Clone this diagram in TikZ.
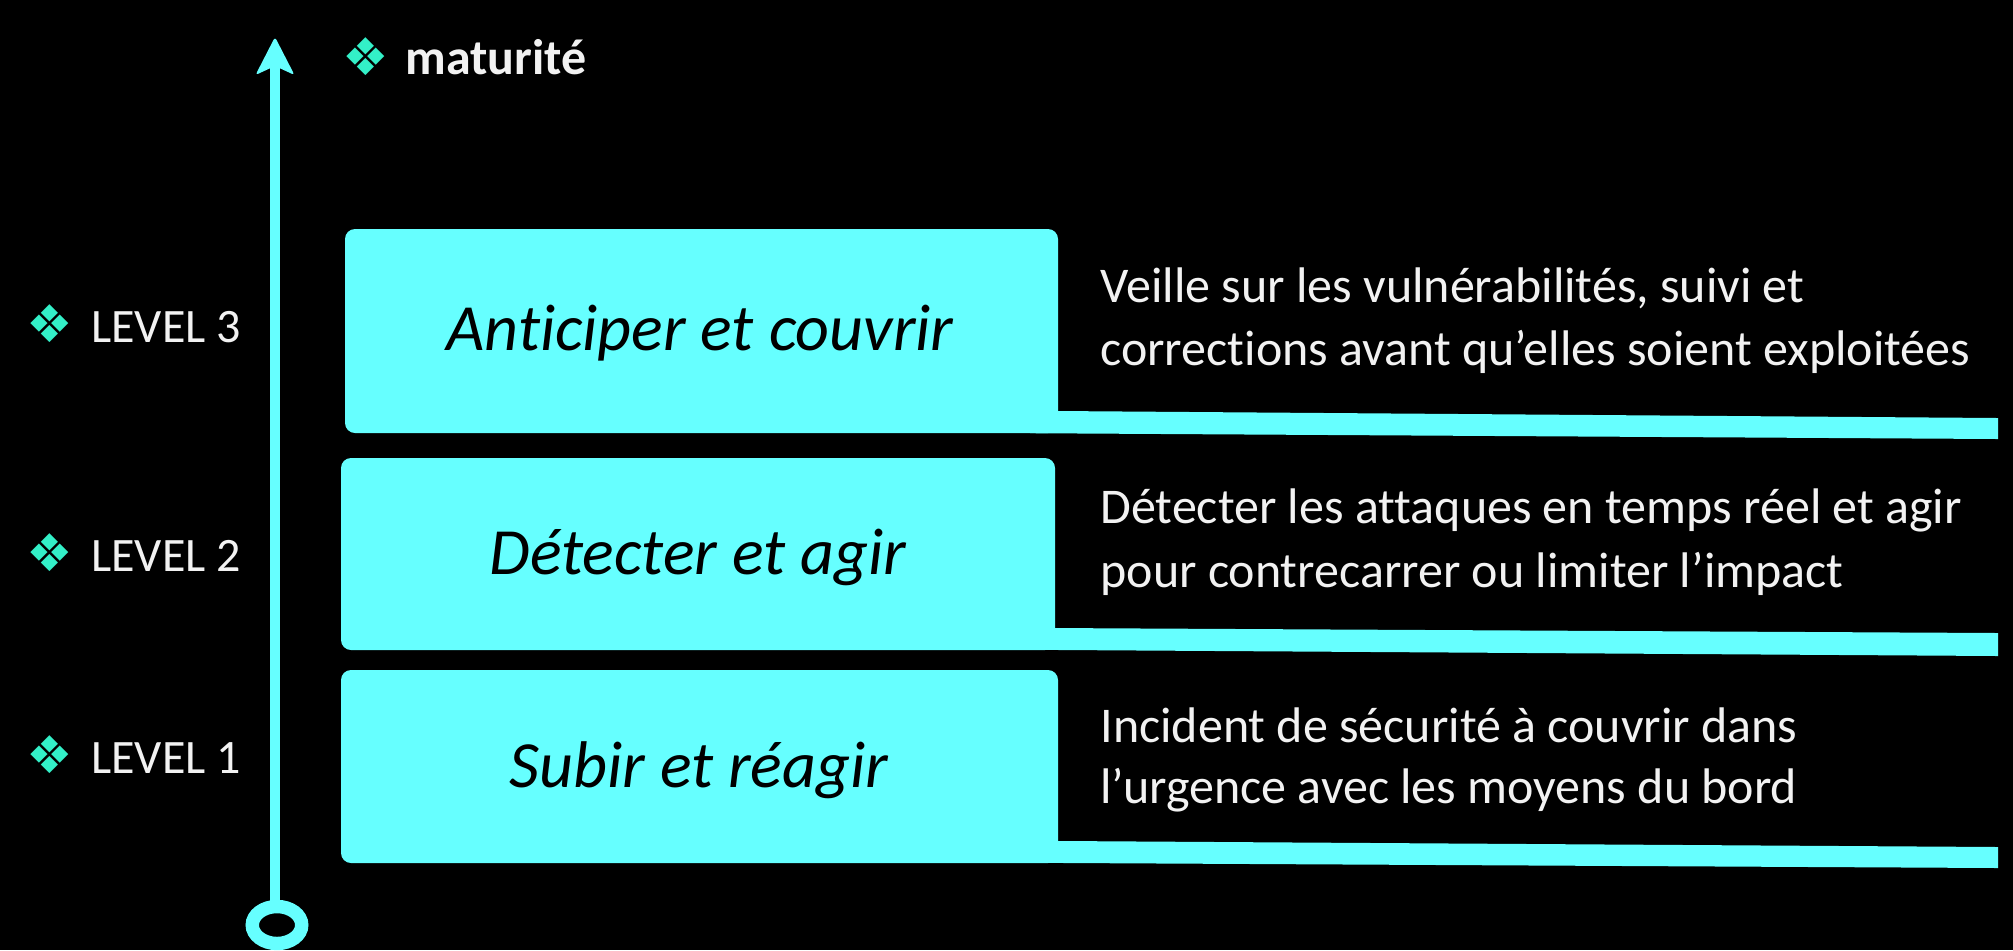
\documentclass[tikz,border=0pt]{standalone}
\usepackage{fontspec}
\usetikzlibrary{shapes.geometric}
\setmainfont{Carlito}[Ligatures=CommonOff]
\newfontfamily\symfont{DejaVu Sans}
\definecolor{cyanbox}{RGB}{102,255,255}
\definecolor{bulletcol}{RGB}{51,240,200}
\definecolor{txt}{RGB}{242,242,242}
\tikzset{
  lvlbox/.style={fill=cyanbox, rounded corners=5pt, inner sep=0pt, draw=none},
  tailbar/.style={fill=cyanbox, draw=none},
  boxlabel/.style={anchor=base, inner sep=0pt, text=black, font=\fontsize{33pt}{38pt}\selectfont\itshape},
  desc/.style={anchor=base west, inner sep=0pt, text=txt, font=\fontsize{25pt}{30pt}\selectfont},
  lvllabel/.style={anchor=base west, inner sep=0pt, text=txt, font=\fontsize{24pt}{29pt}\selectfont},
  bulletsym/.style={inner sep=0pt, text=bulletcol, font=\symfont\fontsize{26pt}{28pt}\selectfont},
}
\begin{document}
\begin{tikzpicture}[x=0.5pt,y=-0.5pt]
\fill[black] (0,0) rectangle (2013,950);
\useasboundingbox (0,0) rectangle (2013,950);

% axis
\coordinate (axisbottom) at (275,906);
\coordinate (axistop) at (275,64);
\draw[cyanbox, line width=5pt] (axisbottom) -- (axistop);
\fill[cyanbox, rounded corners=1.5pt] (275,37) -- (294.5,75) -- (275,66) -- (255.5,75) -- cycle;
\node[draw=cyanbox, line width=6.7pt, ellipse, minimum width=24.75pt, minimum height=18.5pt, inner sep=0pt] (ring) at (277,925) {};

% maturite
\node[bulletsym] (bm) at (366,56.5) {❖};
\node[anchor=base west, inner sep=0pt, text=txt, font=\fontsize{25pt}{30pt}\selectfont\bfseries] (mat) at (405,74) {maturité};

% level labels
\node[bulletsym] (b3s) at (50,324) {❖};
\node[lvllabel] (l3) at (91,342) {LEVEL 3};
\node[bulletsym] (b2s) at (50,553) {❖};
\node[lvllabel] (l2) at (91,571) {LEVEL 2};
\node[bulletsym] (b1s) at (50,755) {❖};
\node[lvllabel] (l1) at (91,773) {LEVEL 1};

% level boxes
\node[lvlbox, minimum width=356.5pt, minimum height=102pt] (box3) at (701.5,331) {};
\fill[tailbar] (1030,410.8) -- (1998,418) -- (1998,439) -- (1030,433.2) -- cycle;
\node[lvlbox, minimum width=357pt, minimum height=96pt] (box2) at (698,554) {};
\fill[tailbar] (1030,627.9) -- (1998,633) -- (1998,656) -- (1030,649.8) -- cycle;
\node[lvlbox, minimum width=358.5pt, minimum height=96.5pt] (box1) at (699.5,766.5) {};
\fill[tailbar] (1030,840.8) -- (1998,847) -- (1998,868) -- (1030,862.8) -- cycle;

\node[boxlabel] (t3) at (700,350) {Anticiper et couvrir};
\node[boxlabel] (t2) at (698,574) {Détecter et agir};
\node[boxlabel] (t1) at (699,787) {Subir et réagir};

% descriptions
\node[desc] (d3a) at (1100,302) {Veille sur les vulnérabilités, suivi et};
\node[desc] (d3b) at (1100,365) {corrections avant qu’elles soient exploitées};
\node[desc] (d2a) at (1100,523) {Détecter les attaques en temps réel et agir};
\node[desc] (d2b) at (1100,587) {pour contrecarrer ou limiter l’impact};
\node[desc] (d1a) at (1100,742) {Incident de sécurité à couvrir dans};
\node[desc] (d1b) at (1100,803) {l’urgence avec les moyens du bord};
\end{tikzpicture}
\end{document}
